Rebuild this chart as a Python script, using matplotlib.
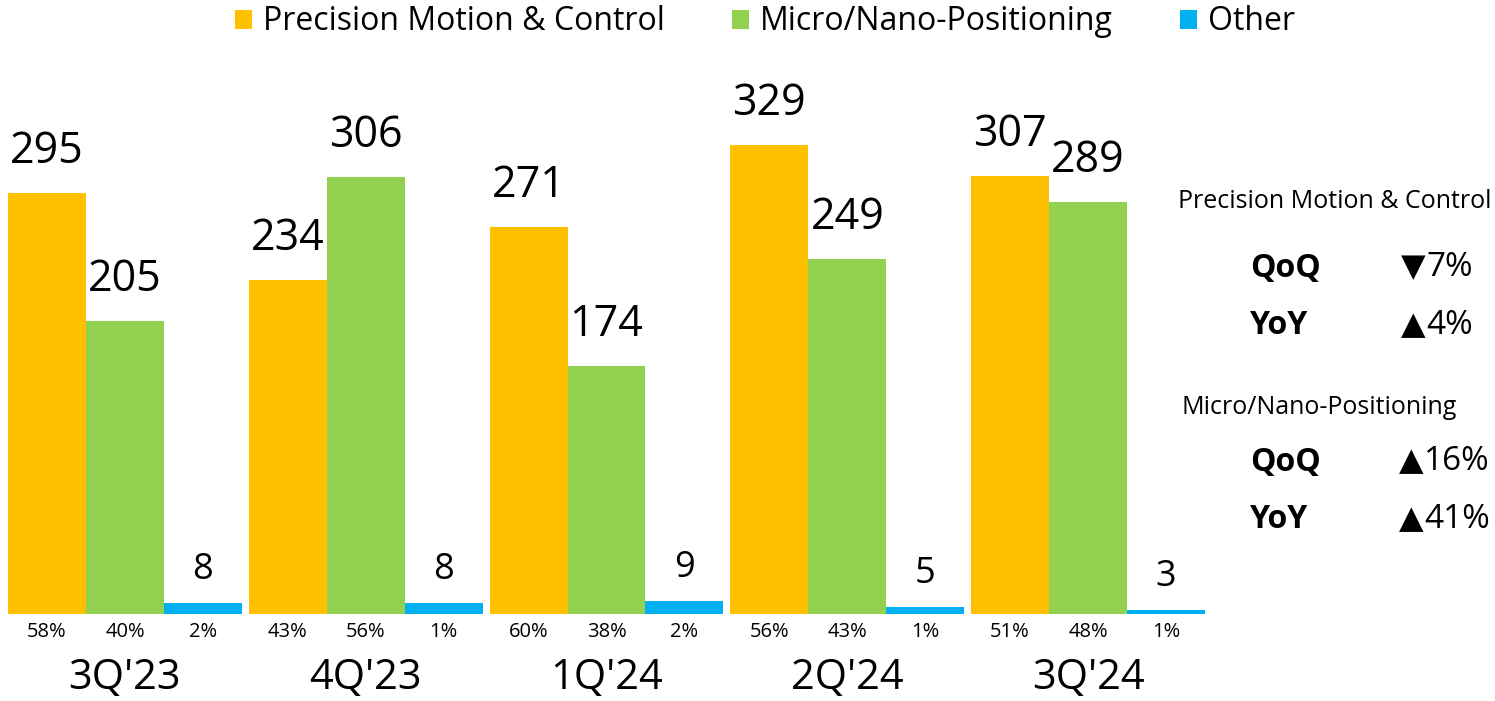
import matplotlib
matplotlib.use("Agg")
import matplotlib.pyplot as plt
from matplotlib.patches import Patch

plt.rcParams['font.family'] = ['Open Sans', 'DejaVu Sans']

quarters = ["3Q'23", "4Q'23", "1Q'24", "2Q'24", "3Q'24"]
series_names = ["Precision Motion & Control", "Micro/Nano-Positioning", "Other"]
pmc = [295, 234, 271, 329, 307]
mnp = [205, 306, 174, 249, 289]
other = [8, 8, 9, 5, 3]
pmc_share = ["58%", "43%", "60%", "56%", "51%"]
mnp_share = ["40%", "56%", "38%", "43%", "48%"]
other_share = ["2%", "1%", "2%", "1%", "1%"]
colors = ["#FFC000", "#92D050", "#00B0F0"]
growth_groups = ["Precision Motion & Control", "Micro/Nano-Positioning"]
growth_rows = [[("QoQ", "▼", "7%"), ("YoY", "▲", "4%")],
               [("QoQ", "▲", "16%"), ("YoY", "▲", "41%")]]

W, H = 1495, 701
PX = 72 / 100  # points per pixel
fig = plt.figure(figsize=(W / 100, H / 100), dpi=100)
ax_left, ax_right, ax_bottom, ax_top = 8, 1205, 614, 0
ax = fig.add_axes([ax_left / W, 1 - ax_bottom / H, (ax_right - ax_left) / W, (ax_bottom - ax_top) / H])

period = 3.087
series = [pmc, mnp, other]
shares = [pmc_share, mnp_share, other_share]
label_size = [31, 31, 26]
label_gap = [30, 30, 24]
ymax = 614 / 1.427
for j, (vals, shr, c) in enumerate(zip(series, shares, colors)):
    xs = [i * period + j for i in range(len(quarters))]
    ax.bar(xs, vals, width=1.0, color=c, linewidth=0)
    for x, v, s in zip(xs, vals, shr):
        ax.annotate(str(v), (x, v), xytext=(0, label_gap[j] * PX), textcoords='offset points',
                    ha='center', va='baseline', fontsize=label_size[j])
        ax.annotate(s, (x, 0), xytext=(0, -18 * PX), textcoords='offset points',
                    ha='center', va='center', fontsize=14.5)

for i, q in enumerate(quarters):
    ax.annotate(q, (i * period + 1, 0), xytext=(0, -64 * PX), textcoords='offset points',
                ha='center', va='center', fontsize=30)

ax.set_xlim(-0.5, 4 * period + 2.5)
ax.set_ylim(0, ymax)
ax.axis('off')

handles = [Patch(facecolor=c, edgecolor='none') for c in colors]
fig.legend(handles, series_names, loc='center', bbox_to_anchor=(765 / W, 1 - 22 / H),
           ncol=3, frameon=False, fontsize=23, handlelength=0.53, handleheight=0.53,
           handletextpad=0.35, columnspacing=2.1, borderpad=0, borderaxespad=0)

def ft(x, y, s, **kw):
    return fig.text(x / W, 1 - y / H, s, va='center', **kw)

group_y = [201, 408]
group_x = [(1492, 'right'), (1182, 'left')]
row_y = [[268, 326], [462, 520]]
num_right = [1473, 1490]
for g, name in enumerate(growth_groups):
    gx, gha = group_x[g]
    ft(gx, group_y[g], name, ha=gha, fontsize=18)
    for r, (lab, tri, val) in enumerate(growth_rows[g]):
        y = row_y[g][r]
        ft(1250, y, lab, ha='left', fontsize=23, fontweight='bold')
        t = ft(num_right[g], y, val, ha='right', fontsize=24)
        ax.annotate(tri, xy=(0, 0.5), xycoords=t, xytext=(-1 * PX, 0),
                    textcoords='offset points', ha='right', va='center',
                    fontsize=23, family='DejaVu Sans', annotation_clip=False)

fig.savefig("out.png", dpi=100)
